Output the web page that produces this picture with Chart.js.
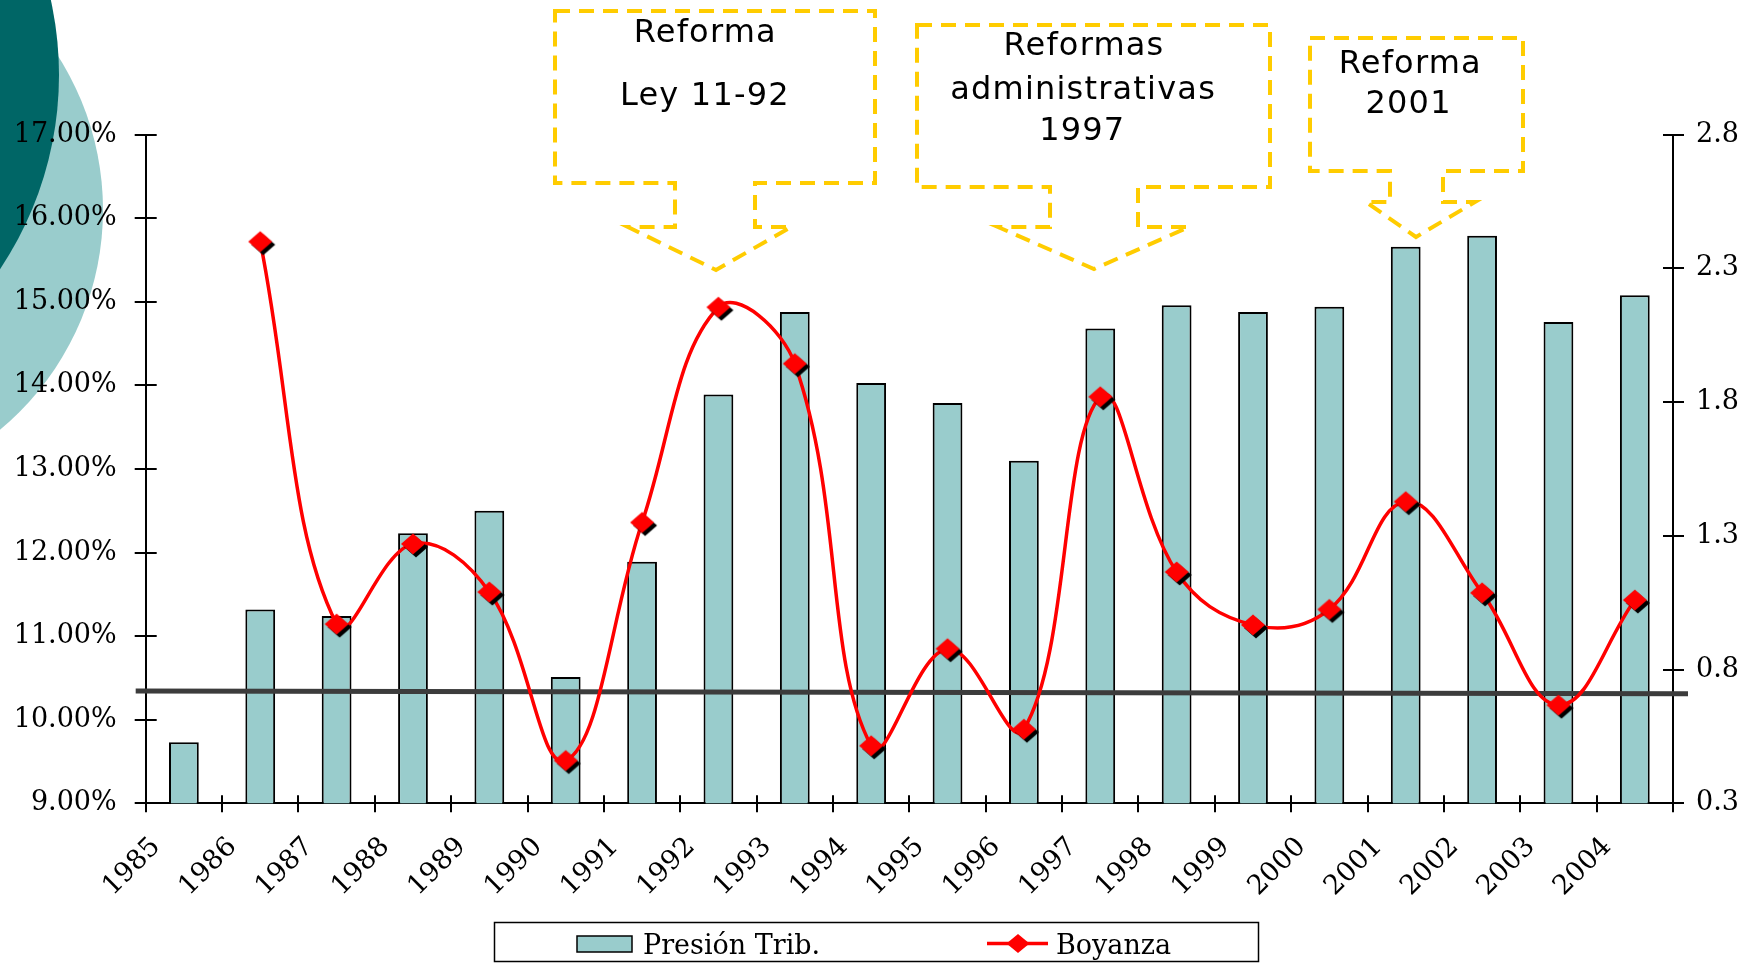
<!DOCTYPE html>
<html>
<head>
<meta charset="utf-8">
<script src="https://cdn.jsdelivr.net/npm/chart.js@4.4.1/dist/chart.umd.min.js"></script>
<style>
  html, body { margin: 0; padding: 0; background: #ffffff; overflow: hidden; }
  #wrap { width: 1759px; height: 963px; position: relative; }
  canvas { display: block; }
</style>
</head>
<body>
<div id="wrap"><canvas id="chart" width="1759" height="963"></canvas></div>
<script>
// ---------------- DATA ----------------
const years = ['1985','1986','1987','1988','1989','1990','1991','1992','1993','1994',
               '1995','1996','1997','1998','1999','2000','2001','2002','2003','2004'];
const presionTrib = [9.73, 11.32, 11.24, 12.23, 12.50, 10.51, 11.89, 13.89, 14.88, 14.03,
                     13.79, 13.10, 14.68, 14.96, 14.88, 14.94, 15.66, 15.79, 14.76, 15.08];
const boyanza = [null, 2.40, 0.97, 1.27, 1.09, 0.46, 1.35, 2.155, 1.944, 0.515,
                 0.878, 0.577, 1.82, 1.165, 0.967, 1.025, 1.428, 1.087, 0.667, 1.06];
const leftAxisRange = [9, 17, 1];      // min, max, step (%)
const rightAxisRange = [0.3, 2.8, 0.5]; // min, max, step
const referenceLine = [10.345, 10.31];  // % at left end, right end
const seriesNames = ['Presión Trib.', 'Boyanza'];
const calloutTexts = [
  ['Reforma', 'Ley 11-92'],
  ['Reformas', 'administrativas', '1997'],
  ['Reforma', '2001']
];

// ---------------- STYLE HELPERS ----------------
const SERIF = '"DejaVu Serif", "Liberation Serif", serif';
const SANS = '"DejaVu Sans", Verdana, sans-serif';
const TEAL = '#99CCCC';
const RED = '#FF0000';

function diamond(g, cx, cy, hw, hh) {
  g.beginPath();
  g.moveTo(cx, cy - hh); g.lineTo(cx + hw, cy); g.lineTo(cx, cy + hh); g.lineTo(cx - hw, cy);
  g.closePath();
}
function makeMarker() {
  const c = document.createElement('canvas');
  c.width = 36; c.height = 36;
  const g = c.getContext('2d');
  diamond(g, 21, 21, 12, 10.5); g.fillStyle = '#000'; g.fill();
  diamond(g, 18, 18, 12, 10.5); g.fillStyle = RED; g.fill();
  return c;
}
const marker = makeMarker();

// ---------------- PLUGINS ----------------
const backgroundCircles = {
  id: 'backgroundCircles',
  beforeDraw(chart) {
    const ctx = chart.ctx;
    ctx.save();
    ctx.fillStyle = TEAL;
    ctx.beginPath(); ctx.arc(-183, 210, 286, 0, Math.PI * 2); ctx.fill();
    ctx.fillStyle = '#006666';
    ctx.beginPath(); ctx.arc(-290, 75, 349, 0, Math.PI * 2); ctx.fill();
    ctx.restore();
  }
};

const refLinePlugin = {
  id: 'refLine',
  beforeDatasetDraw(chart, args) {
    if (args.meta.type !== 'line') return;
    const ctx = chart.ctx, y = chart.scales.y, a = chart.chartArea;
    ctx.save();
    ctx.strokeStyle = '#3c3c3c';
    ctx.lineWidth = 5;
    ctx.beginPath();
    ctx.moveTo(a.left - 10, y.getPixelForValue(referenceLine[0]));
    ctx.lineTo(a.right + 15, y.getPixelForValue(referenceLine[1]));
    ctx.stroke();
    ctx.restore();
  }
};

const innerTicks = {
  id: 'innerTicks',
  afterDraw(chart) {
    const ctx = chart.ctx, a = chart.chartArea;
    const {x, y, y1} = chart.scales;
    ctx.save();
    ctx.strokeStyle = '#000';
    ctx.lineWidth = 2;
    ctx.beginPath();
    y.ticks.forEach((t, i) => {
      const p = Math.round(y.getPixelForTick(i));
      ctx.moveTo(a.left, p); ctx.lineTo(a.left + 11, p);
    });
    y1.ticks.forEach((t, i) => {
      const p = Math.round(y1.getPixelForTick(i));
      ctx.moveTo(a.right, p); ctx.lineTo(a.right - 10, p);
    });
    for (let i = 0; i <= years.length; i++) {
      const p = Math.round(x.getPixelForValue(i - 0.5));
      ctx.moveTo(p, a.bottom); ctx.lineTo(p, a.bottom - 8);
    }
    ctx.stroke();
    ctx.restore();
  }
};

const calloutGeom = [
  {l: 555, t: 11, r: 875, b: 183, sl: 675, sr: 755, sb: 227, wl: 628, wr: 791, tx: 716, ty: 270,
   text: [[704.7, 41.7], [704.3, 105]]},
  {l: 917, t: 25, r: 1270, b: 187, sl: 1050, sr: 1138, sb: 227, wl: 998, wr: 1189, tx: 1094, ty: 269,
   text: [[1083.4, 55], [1082.5, 99.3], [1081.7, 140]]},
  {l: 1310, t: 38, r: 1523, b: 171, sl: 1390, sr: 1443, sb: 202, wl: 1366, wr: 1475, tx: 1416, ty: 237,
   text: [[1409.7, 72.7], [1408, 113.3]]}
];

const callouts = {
  id: 'callouts',
  afterDraw(chart) {
    const ctx = chart.ctx;
    ctx.save();
    calloutGeom.forEach((c, k) => {
      ctx.beginPath();
      ctx.moveTo(c.l, c.t); ctx.lineTo(c.r, c.t); ctx.lineTo(c.r, c.b);
      ctx.lineTo(c.sr, c.b); ctx.lineTo(c.sr, c.sb); ctx.lineTo(c.wr, c.sb);
      ctx.lineTo(c.tx, c.ty); ctx.lineTo(c.wl, c.sb); ctx.lineTo(c.sl, c.sb);
      ctx.lineTo(c.sl, c.b); ctx.lineTo(c.l, c.b); ctx.closePath();
      ctx.setLineDash([15, 9]);
      ctx.lineWidth = 4;
      ctx.strokeStyle = '#FFCC00';
      ctx.stroke();
      ctx.setLineDash([]);
      ctx.fillStyle = '#000';
      ctx.font = '32px ' + SANS;
      ctx.textAlign = 'center';
      ctx.textBaseline = 'alphabetic';
      if ('letterSpacing' in ctx) ctx.letterSpacing = '1.2px';
      calloutTexts[k].forEach((s, j) => {
        ctx.fillText(s, c.text[j][0] + 0.6, c.text[j][1]);
      });
      if ('letterSpacing' in ctx) ctx.letterSpacing = '0px';
    });
    ctx.restore();
  }
};

const boxedLegend = {
  id: 'boxedLegend',
  afterDraw(chart) {
    const ctx = chart.ctx;
    ctx.save();
    ctx.strokeStyle = '#000';
    ctx.lineWidth = 1.5;
    ctx.strokeRect(494.5, 922.5, 764, 39);
    // bar swatch
    ctx.fillStyle = TEAL;
    ctx.fillRect(577, 936, 55, 16);
    ctx.strokeRect(577, 936, 55, 16);
    // line swatch
    ctx.strokeStyle = RED;
    ctx.lineWidth = 3.5;
    ctx.beginPath(); ctx.moveTo(987, 943.5); ctx.lineTo(1048, 943.5); ctx.stroke();
    diamond(ctx, 1018, 943.5, 11.5, 9.5); ctx.fillStyle = RED; ctx.fill();
    // texts
    ctx.fillStyle = '#000';
    ctx.font = '27px ' + SERIF;
    ctx.textAlign = 'left';
    ctx.textBaseline = 'alphabetic';
    ctx.fillText(chart.data.datasets[1].label, 643, 953.5);
    ctx.fillText(chart.data.datasets[0].label, 1056, 953.5);
    ctx.restore();
  }
};

// ---------------- CHART ----------------
const tickFont = {family: SERIF, size: 27};

new Chart(document.getElementById('chart'), {
  data: {
    labels: years,
    datasets: [
      {
        type: 'line',
        label: seriesNames[1],
        data: boyanza,
        yAxisID: 'y1',
        borderColor: RED,
        backgroundColor: RED,
        borderWidth: 3.5,
        tension: 0.4,
        pointStyle: marker,
        pointRadius: 12,
        pointHoverRadius: 12,
        fill: false,
        order: 1
      },
      {
        type: 'bar',
        label: seriesNames[0],
        data: presionTrib,
        yAxisID: 'y',
        backgroundColor: TEAL,
        borderColor: '#000',
        borderWidth: 2,
        categoryPercentage: 0.39,
        barPercentage: 1,
        order: 2
      }
    ]
  },
  options: {
    responsive: false,
    animation: false,
    devicePixelRatio: 1,
    layout: {padding: {left: 0, right: 0, top: 134.7, bottom: 0}},
    plugins: {
      legend: {display: false},
      tooltip: {enabled: false},
      title: {display: false}
    },
    scales: {
      x: {
        type: 'category',
        offset: true,
        grid: {offset: true, drawOnChartArea: false, drawTicks: true, tickLength: 9, color: '#000', lineWidth: 2},
        border: {display: true, color: '#000', width: 2},
        ticks: {autoSkip: false, minRotation: 45, maxRotation: 45, labelOffset: -27.6, padding: 19,
                font: tickFont, color: '#000'},
        afterFit(s) { s.height = 159.7; }
      },
      y: {
        type: 'linear',
        position: 'left',
        min: leftAxisRange[0], max: leftAxisRange[1],
        grid: {drawOnChartArea: false, drawTicks: true, tickLength: 11, color: '#000', lineWidth: 2},
        border: {display: true, color: '#000', width: 2},
        ticks: {stepSize: leftAxisRange[2], padding: 18, font: tickFont, color: '#000',
                callback: v => Number(v).toFixed(2) + '%'},
        afterFit(s) { s.width = 145.7; }
      },
      y1: {
        type: 'linear',
        position: 'right',
        min: rightAxisRange[0], max: rightAxisRange[1],
        grid: {drawOnChartArea: false, drawTicks: true, tickLength: 11, color: '#000', lineWidth: 2},
        border: {display: true, color: '#000', width: 2},
        ticks: {stepSize: rightAxisRange[2], padding: 12, font: tickFont, color: '#000',
                callback: v => Number(v).toFixed(1)},
        afterFit(s) { s.width = 86; }
      }
    }
  },
  plugins: [backgroundCircles, refLinePlugin, innerTicks, callouts, boxedLegend]
});
</script>
</body>
</html>
